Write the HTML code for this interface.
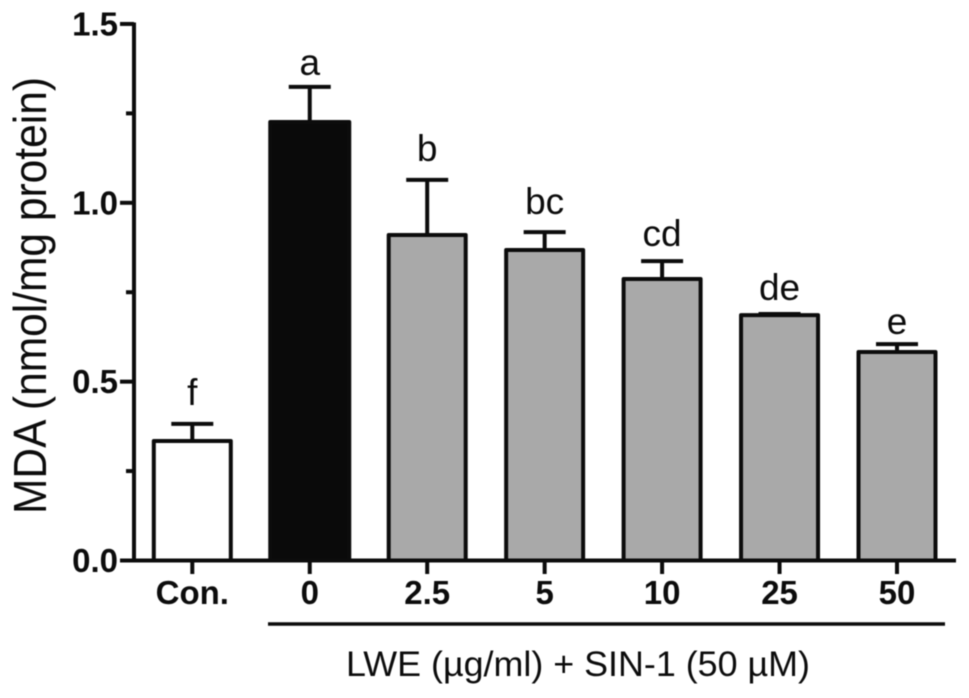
<!DOCTYPE html>
<html><head><meta charset="utf-8"><title>MDA bar chart</title>
<style>html,body{margin:0;padding:0;background:#fff}svg{display:block;filter:blur(.4px)}text{font-family:"Liberation Sans",sans-serif;fill:#0c0c0c}</style></head>
<body>
<svg id="chart" width="969" height="698" viewBox="0 0 969 698" xmlns="http://www.w3.org/2000/svg"></svg>
<script>
const categories = ["Con.", "0", "2.5", "5", "10", "25", "50"];
const values = [0.334, 1.226, 0.91, 0.868, 0.787, 0.686, 0.583];
const errorTops = [0.382, 1.324, 1.064, 0.918, 0.837, 0.689, 0.605];
const letters = ["f", "a", "b", "bc", "cd", "de", "e"];
const majorTicks = [0, 0.5, 1, 1.5];
const majorTickLabels = ["0.0", "0.5", "1.0", "1.5"];
const minorTicks = [0.25, 0.75, 1.25];

const svg = document.getElementById('chart');
const NS = 'http://www.w3.org/2000/svg';
const yScale = v => 560.5 - v * 357.7;
const xScale = i => 192.3 + i * 117.45;
const INK = '#0c0c0c';
const fillFor = i => i === 0 ? '#ffffff' : i === 1 ? '#0a0a0a' : '#a9a9a9';
const barWidthFor = i => i === 1 ? 79 : 77;
const letterGapFor = i => ({0: 19, 1: 12, 2: 19, 3: 18, 4: 15, 5: 14, 6: 10})[i];

function make(tag, attrs, text) {
  const el = document.createElementNS(NS, tag);
  for (const k in attrs) el.setAttribute(k, attrs[k]);
  if (text !== undefined) el.textContent = text;
  svg.appendChild(el);
  return el;
}
function stroke(x1, y1, x2, y2, w) {
  return make('line', {x1, y1, x2, y2, stroke: INK, 'stroke-width': w || 4});
}

categories.forEach((c, i) => {
  const x = xScale(i), top = yScale(values[i]), cap = yScale(errorTops[i]), base = yScale(0);
  const w = barWidthFor(i);
  const whisker = stroke(x, top, x, cap);
  
  
  const capLine = stroke(x - 21, cap, x + 21, cap);
  
  
  const bar = make('rect', {x: x - w / 2, y: top, width: w, height: base - top, fill: fillFor(i), stroke: INK, 'stroke-width': 4, 'stroke-linejoin': 'round'});
  
  
  const letter = make('text', {x, y: cap - letterGapFor(i), 'text-anchor': 'middle', 'font-size': 37}, letters[i]);
  
  
  const tick = stroke(x, base, x, 574);
  
  
  const label = make('text', {x, y: 604, 'text-anchor': 'middle', 'font-size': 33, 'font-weight': 'bold'}, c);
  
  
});

const yAxis = stroke(134, 22.5, 134, 562);


const xAxis = stroke(120, yScale(0), 956, yScale(0));



majorTicks.forEach((v, i) => {
  const tick = stroke(120, yScale(v), 134, yScale(v));
  
  
  const label = make('text', {x: 118, y: yScale(v) + 11.5, 'text-anchor': 'end', 'font-size': 33, 'font-weight': 'bold'}, majorTickLabels[i]);
  
  
});
minorTicks.forEach((v, i) => {
  const tick = stroke(126, yScale(v), 134, yScale(v));
  
  
});

const groupLine = stroke(268, 624, 945, 624, 3.6);



const yTitle = make('text', {transform: 'translate(46 514) rotate(-90)', 'font-size': 46, textLength: 437, lengthAdjust: 'spacingAndGlyphs'}, 'MDA (nmol/mg protein)');


const xTitle = make('text', {x: 346, y: 676, 'font-size': 35, textLength: 464, lengthAdjust: 'spacingAndGlyphs'}, 'LWE (\u00b5g/ml) + SIN-1 (50 \u00b5M)');


</script>
</body></html>
